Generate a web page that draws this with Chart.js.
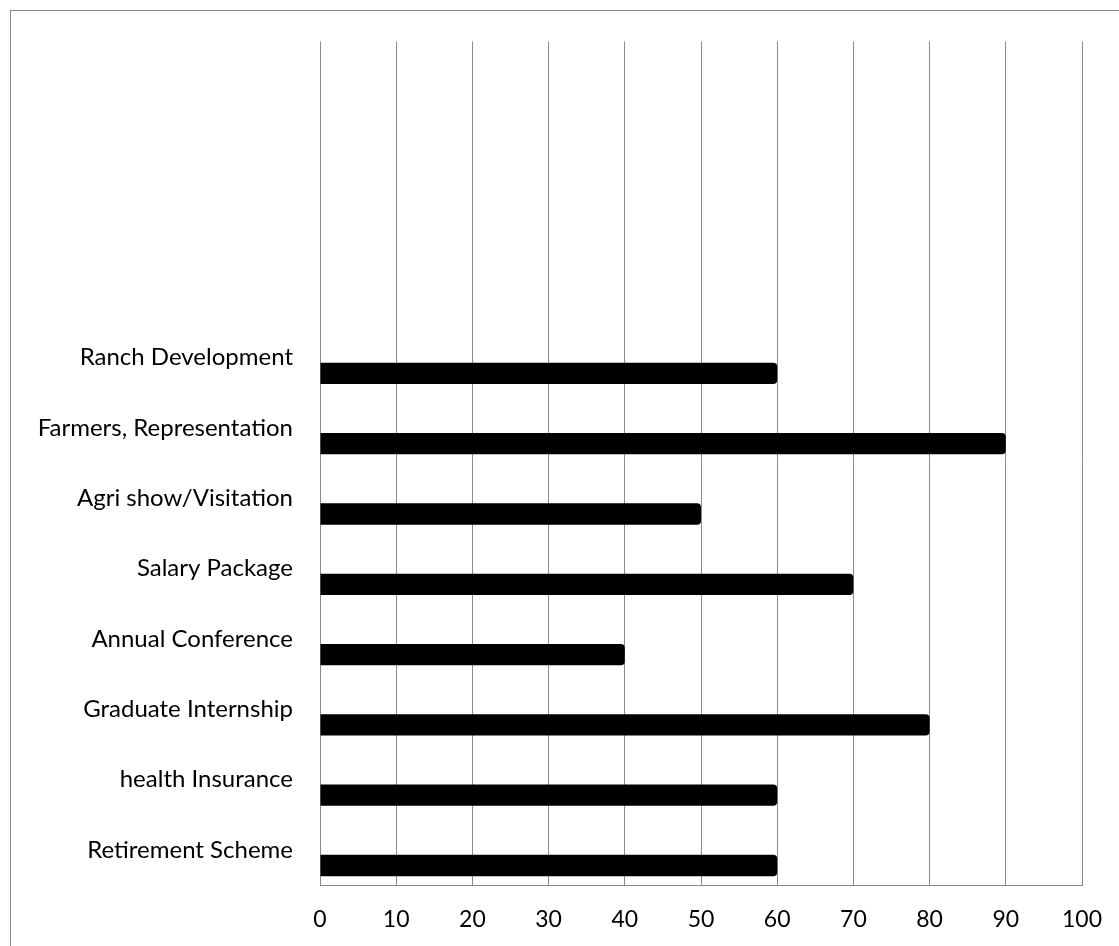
<!DOCTYPE html>
<html>
<head>
<meta charset="utf-8">
<script src="https://cdn.jsdelivr.net/npm/chart.js@4/dist/chart.umd.min.js"></script>
<style>
  html, body { margin: 0; padding: 0; background: #ffffff; }
  #wrap { position: absolute; left: 0; top: 0; width: 1119px; height: 946px; }
</style>
</head>
<body>
<div id="wrap"><canvas id="c" width="1119" height="946"></canvas></div>
<script>
// Categories listed bottom-to-top (as in the original); the four top slots are empty.
const categories = [
  'Retirement Scheme',
  'health Insurance',
  'Graduate Internship',
  'Annual Conference',
  'Salary Package',
  'Agri show/Visitation',
  'Farmers, Representation',
  'Ranch Development',
  '', '', '', ''
];
const values = [60, 60, 80, 40, 70, 50, 90, 60, null, null, null, null];
const emptySeries = [null, null, null, null, null, null, null, null, null, null, null, null];
const xTicks = [0, 10, 20, 30, 40, 50, 60, 70, 80, 90, 100];

const FONT = 'Lato, "Open Sans", sans-serif';
const GRID = '#8a8a8a';

const outerBorder = {
  id: 'outerBorder',
  beforeDraw(chart) {
    const ctx = chart.ctx;
    ctx.save();
    ctx.fillStyle = '#ffffff';
    ctx.fillRect(0, 0, chart.width, chart.height);
    ctx.strokeStyle = '#8a8a8a';
    ctx.lineWidth = 1;
    ctx.strokeRect(10.5, 10.5, 2000, 2000);
    ctx.restore();
  }
};

new Chart(document.getElementById('c'), {
  type: 'bar',
  data: {
    labels: categories,
    datasets: [
      { label: 'blank', data: emptySeries, backgroundColor: 'rgba(0,0,0,0)' },
      {
        label: 'Series',
        data: values,
        backgroundColor: '#000000',
        borderWidth: 0,
        borderRadius: 4,
        borderSkipped: 'start'
      }
    ]
  },
  options: {
    indexAxis: 'y',
    responsive: false,
    animation: false,
    devicePixelRatio: 1,
    categoryPercentage: 0.89,
    barPercentage: 0.68,
    layout: { padding: { top: 40, right: 37, bottom: 0, left: 0 } },
    plugins: { legend: { display: false }, tooltip: { enabled: false }, title: { display: false } },
    scales: {
      x: {
        type: 'linear',
        min: 0,
        max: 100,
        afterBuildTicks(scale) { scale.ticks = xTicks.map(v => ({ value: v })); },
        afterFit(scale) { scale.height = 61; scale.paddingLeft = 0; scale.paddingRight = 0; },
        grid: { color: GRID, lineWidth: 1, drawTicks: false },
        border: { display: true, color: GRID, width: 1 },
        ticks: { color: '#000000', padding: 21, font: { family: FONT, size: 23 } }
      },
      y: {
        type: 'category',
        reverse: true,
        afterFit(scale) { scale.width = 320; },
        grid: { display: false, drawTicks: false },
        border: { display: false },
        ticks: { color: '#000000', padding: 27, autoSkip: false, font: { family: FONT, size: 24 } }
      }
    }
  },
  plugins: [outerBorder]
});
</script>
</body>
</html>
